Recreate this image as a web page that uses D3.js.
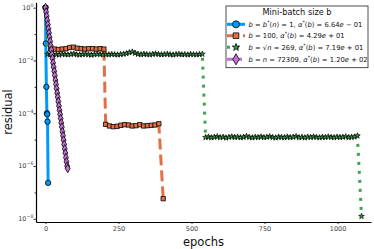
<!DOCTYPE html>
<html>
<head>
<meta charset="utf-8">
<script src="https://cdn.jsdelivr.net/npm/d3@7"></script>
<style>
  body { margin: 0; background: #fff; }
  text { font-family: "DejaVu Sans", sans-serif; }
</style>
</head>
<body>
<svg id="chart" width="374" height="249"></svg>
<script>
// residual per epoch
var blueEpochs = [0, 1, 3, 5, 6, 7, 9];
var blueResidual = [1.0, 4.4e-2, 1.0e-3, 1.0e-4, 9.2e-5, 4.8e-5, 2.3e-7];

var orangeEpochs = [0, 18, 31, 44, 57, 70, 83, 96, 109, 122, 135, 148, 161, 174, 187, 200,
  206, 219, 232, 245, 258, 271, 284, 297, 310, 323, 336, 349, 362, 375, 388, 403];
var orangeResidual = [1.0, 0.027, 0.027, 0.026, 0.027, 0.028, 0.031, 0.032, 0.029, 0.028, 0.027, 0.028, 0.028, 0.027, 0.028, 0.027,
  3.8e-5, 3.3e-5, 3.1e-5, 3.2e-5, 3.5e-5, 3.7e-5, 3.6e-5, 3.3e-5, 3.4e-5, 3.7e-5, 3.3e-5, 3.4e-5, 3.5e-5, 3.6e-5, 4.0e-5, 5.8e-8];

var greenEpochs = [0,
  7, 17, 27, 37, 47, 57, 67, 77, 87, 97,
  107, 117, 127, 137, 147, 157, 167, 177, 187, 197,
  207, 217, 227, 237, 247, 257, 267, 277, 287, 297,
  307, 317, 327, 337, 347, 357, 367, 377, 387, 397,
  407, 417, 427, 437, 447, 457, 467, 477, 487, 497,
  507, 517, 527, 537,
  548, 558, 568, 578, 588, 598, 608, 618, 628, 638,
  648, 658, 668, 678, 688, 698, 708, 718, 728, 738,
  748, 758, 768, 778, 788, 798, 808, 818, 828, 838,
  848, 858, 868, 878, 888, 898, 908, 918, 928, 938,
  948, 958, 968, 978, 988, 998, 1008, 1018, 1028, 1038,
  1048, 1058, 1068,
  1082];
var greenResidual = [1.0,
  0.0172, 0.0165, 0.0170, 0.0168, 0.0163, 0.0175, 0.0169, 0.0166, 0.0171, 0.0180,
  0.0167, 0.0164, 0.0170, 0.0173, 0.0168, 0.0162, 0.0169, 0.0175, 0.0171, 0.0166,
  0.0170, 0.0167, 0.0172, 0.0168, 0.0165, 0.0171, 0.0176, 0.0185, 0.0200, 0.0212,
  0.0190, 0.0174, 0.0168, 0.0175, 0.0169, 0.0166, 0.0173, 0.0180, 0.0171, 0.0167,
  0.0170, 0.0176, 0.0168, 0.0164, 0.0171, 0.0174, 0.0167, 0.0170, 0.0165, 0.0172,
  0.0169, 0.0166, 0.0171, 0.0175,
  1.22e-5, 1.28e-5, 1.19e-5, 1.25e-5, 1.31e-5, 1.21e-5, 1.26e-5, 1.18e-5, 1.24e-5, 1.30e-5,
  1.23e-5, 1.27e-5, 1.20e-5, 1.25e-5, 1.35e-5, 1.24e-5, 1.19e-5, 1.26e-5, 1.22e-5, 1.29e-5,
  1.21e-5, 1.25e-5, 1.32e-5, 1.23e-5, 1.18e-5, 1.27e-5, 1.24e-5, 1.20e-5, 1.28e-5, 1.22e-5,
  1.26e-5, 1.33e-5, 1.21e-5, 1.25e-5, 1.19e-5, 1.27e-5, 1.23e-5, 1.30e-5, 1.24e-5, 1.20e-5,
  1.26e-5, 1.22e-5, 1.29e-5, 1.24e-5, 1.21e-5, 1.27e-5, 1.23e-5, 1.25e-5, 1.31e-5, 1.22e-5,
  1.26e-5, 1.28e-5, 1.40e-5,
  1.25e-8];

var purpleEpochs = [0, 2, 4, 6, 8, 10, 12, 14, 16, 18, 20, 22, 24, 26, 28, 30, 32, 34, 36, 38,
  40, 42, 44, 46, 48, 50, 52, 54, 56, 58, 60, 62, 64, 66, 68, 70, 72, 74, 76];
var purpleResidual = [1.0, 6.9e-1, 4.8e-1, 3.3e-1, 2.3e-1, 1.6e-1, 1.1e-1, 7.6e-2, 5.3e-2, 3.6e-2,
  2.5e-2, 1.7e-2, 1.2e-2, 8.1e-3, 5.6e-3, 3.9e-3, 2.7e-3, 1.8e-3, 1.25e-3, 8.6e-4,
  5.9e-4, 4.1e-4, 2.8e-4, 1.9e-4, 1.3e-4, 9.1e-5, 6.3e-5, 4.3e-5, 3.0e-5, 2.0e-5,
  1.4e-5, 9.6e-6, 6.6e-6, 4.5e-6, 3.1e-6, 2.1e-6, 1.45e-6, 1.0e-6, 8.1e-7];

var xTicks = [0, 250, 500, 750, 1000];
var yDecades = [0, -1, -2, -3, -4, -5, -6, -7, -8];
var yLabelled = [0, -2, -4, -6, -8];

var legendTitle = "Mini-batch size b";

var series = [
  { epochs: blueEpochs, res: blueResidual, color: "#009AFA", dash: null, marker: "circle",
    label: [["b", "i"], [" = ", ""], ["b", "i"], ["*", "sup"], ["(", ""], ["n", "i"], [") = 1, ", ""], ["α", "i"], ["*", "sup"], ["(", ""], ["b", "i"], [") = 6.64", ""], ["e", "i"], [" − 01", ""]] },
  { epochs: orangeEpochs, res: orangeResidual, color: "#E36F47", dash: "11,5", marker: "square",
    label: [["b", "i"], [" = 100, ", ""], ["α", "i"], ["*", "sup"], ["(", ""], ["b", "i"], [") = 4.29", ""], ["e", "i"], [" + 01", ""]] },
  { epochs: greenEpochs, res: greenResidual, color: "#3EA44E", dash: "3,6", marker: "star",
    label: [["b", "i"], [" = √", ""], ["n", "i"], [" = 269, ", ""], ["α", "i"], ["*", "sup"], ["(", ""], ["b", "i"], [") = 7.19", ""], ["e", "i"], [" + 01", ""]] },
  { epochs: purpleEpochs, res: purpleResidual, color: "#C371D2", dash: "9,3,3,3", marker: "diamond",
    label: [["b", "i"], [" = ", ""], ["n", "i"], [" = 72309, ", ""], ["α", "i"], ["*", "sup"], ["(", ""], ["b", "i"], [") = 1.20", ""], ["e", "i"], [" + 02", ""]] }
];

var svg = d3.select("#chart");

var x = d3.scaleLinear().domain([-32.5, 1114.5]).range([36, 371]);
var y = d3.scaleLog().domain([Math.pow(10, -8.12), Math.pow(10, 0.2)]).range([222, 2.4]);

var markerPath = {
  circle: d3.symbol().type(d3.symbolCircle).size(23),
  square: d3.symbol().type(d3.symbolSquare).size(19),
  star: d3.symbol().type(d3.symbolStar).size(10),
  diamond: d3.symbol().type(d3.symbolDiamond).size(21)
};

// series: line then markers, in order so purple ends on top
var plot = svg.append("g");
series.forEach(function(s) {
  var pts = s.epochs.map(function(e, i) { return [e, s.res[i]]; });
  var line = d3.line()
    .x(function(d) { return x(d[0]); })
    .y(function(d) { return y(d[1]); });

  plot.append("path")
    .datum(pts)
    .attr("d", line)
    .attr("fill", "none")
    .attr("stroke", s.color)
    .attr("stroke-width", 3)
    .attr("stroke-dasharray", s.dash);

  plot.selectAll(null)
    .data(pts)
    .enter()
    .append("path")
    .attr("d", markerPath[s.marker])
    .attr("transform", function(d) { return "translate(" + x(d[0]) + "," + y(d[1]) + ")"; })
    .attr("fill", s.color)
    .attr("stroke", "#000")
    .attr("stroke-width", s.marker == "star" ? 0.7 : 0.8);
});

// axes
var xAxis = svg.append("g")
  .attr("transform", "translate(0,222)")
  .call(d3.axisBottom(x).tickValues(xTicks).tickFormat(d3.format("d"))
    .tickSize(2).tickSizeOuter(0).tickPadding(2));
xAxis.selectAll("text").attr("font-size", 6.5).attr("fill", "#444")
  .style("font-family", "DejaVu Sans, sans-serif");

var yAxis = svg.append("g")
  .attr("transform", "translate(36,0)")
  .call(d3.axisLeft(y).tickValues(yDecades.map(function(p) { return Math.pow(10, p); }))
    .tickSize(2).tickSizeOuter(0).tickFormat(""));
yAxis.selectAll(".tick line")
  .attr("x2", function(d) { return Math.round(Math.log10(d)) % 2 == 0 ? -2.5 : -1.5; });

[xAxis, yAxis].forEach(function(a) {
  a.select(".domain").attr("stroke", "#000").attr("stroke-width", 1.2);
  a.selectAll(".tick line").attr("stroke", "#000").attr("stroke-width", 0.8);
});

yLabelled.forEach(function(p) {
  var t = svg.append("text")
    .attr("x", 33.5)
    .attr("y", y(Math.pow(10, p)) + 2.3)
    .attr("text-anchor", "end")
    .attr("font-size", 6.5)
    .attr("fill", "#444");
  t.append("tspan").text("10");
  t.append("tspan").attr("dy", -3).attr("font-size", 4.8).text(p == 0 ? "0" : "−" + (-p));
});

svg.append("text")
  .attr("x", 203.5)
  .attr("y", 245.5)
  .attr("text-anchor", "middle")
  .attr("font-size", 11.5)
  .attr("fill", "#111")
  .text("epochs");

svg.append("text")
  .attr("transform", "translate(11.5,112) rotate(-90)")
  .attr("text-anchor", "middle")
  .attr("font-size", 11.5)
  .attr("fill", "#111")
  .text("residual");

// legend
var legend = svg.append("g");
legend.append("rect")
  .attr("x", 226).attr("y", 6)
  .attr("width", 142).attr("height", 61.7)
  .attr("fill", "#fff")
  .attr("stroke", "#222")
  .attr("stroke-width", 0.8);

legend.append("text")
  .attr("x", 297).attr("y", 15.2)
  .attr("text-anchor", "middle")
  .attr("font-size", 8.2)
  .attr("fill", "#111")
  .text(legendTitle);

var rowY = [24.3, 35.7, 47.3, 59.3];
series.forEach(function(s, i) {
  var g = legend.append("g").attr("transform", "translate(0," + rowY[i] + ")");
  g.append("line")
    .attr("x1", 227).attr("x2", 245)
    .attr("stroke", s.color)
    .attr("stroke-width", 3)
    .attr("stroke-dasharray", s.dash);
  g.append("path")
    .attr("d", markerPath[s.marker])
    .attr("transform", "translate(236,0) scale(1.3)")
    .attr("fill", s.color)
    .attr("stroke", "#000")
    .attr("stroke-width", 0.6);

  var t = g.append("text")
    .attr("x", 248.5)
    .attr("y", 2.3)
    .attr("font-size", 6.8)
    .attr("fill", "#111");
  s.label.forEach(function(part) {
    var sp = t.append("tspan").text(part[0]);
    if (part[1] == "i") sp.attr("font-style", "italic");
    if (part[1] == "sup") {
      sp.attr("dy", -2.6).attr("font-size", 4.8);
    }
  });
  // bring text back to the baseline after each superscript
  t.selectAll("tspan").each(function(d, k, nodes) {
    var prev = k > 0 ? d3.select(nodes[k - 1]) : null;
    if (prev && prev.attr("dy") == "-2.6") d3.select(this).attr("dy", 2.6);
  });
});
</script>
</body>
</html>
